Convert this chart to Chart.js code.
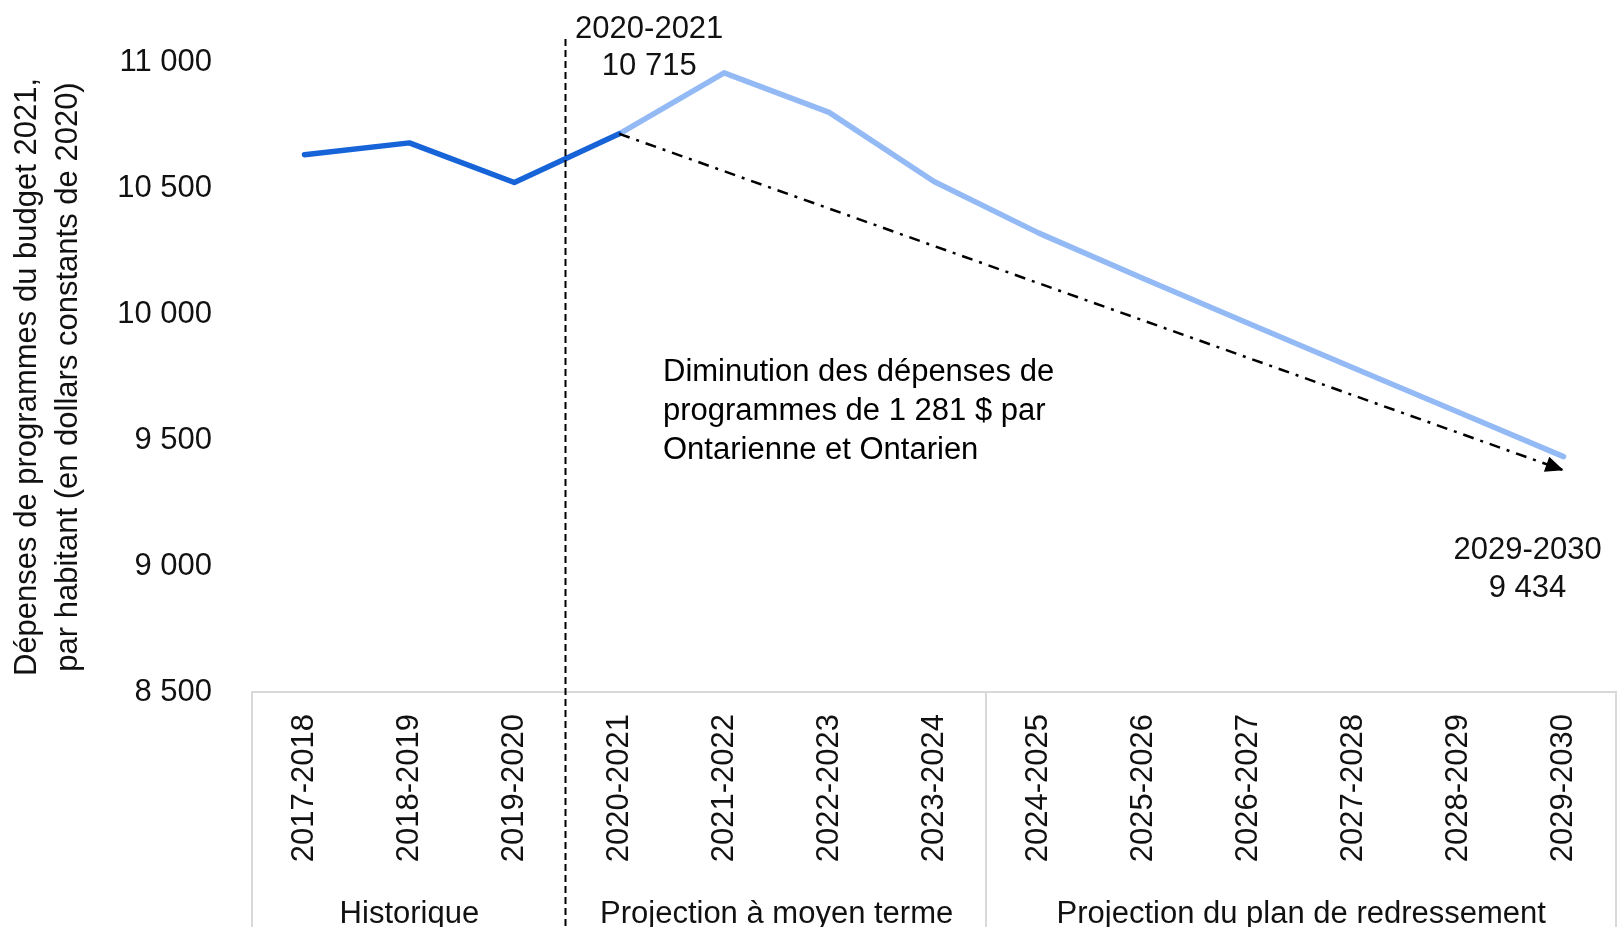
<!DOCTYPE html>
<html>
<head>
<meta charset="utf-8">
<script src="https://cdn.jsdelivr.net/npm/chart.js@4/dist/chart.umd.min.js"></script>
<style>
  html, body { margin: 0; padding: 0; background: #fff; }
</style>
</head>
<body>
<canvas id="chart" width="1624" height="927"></canvas>
<script>
// données
const categories = ['2017-2018', '2018-2019', '2019-2020', '2020-2021', '2021-2022', '2022-2023', '2023-2024',
  '2024-2025', '2025-2026', '2026-2027', '2027-2028', '2028-2029', '2029-2030'];
const historique = [10632, 10679, 10522, 10715, null, null, null, null, null, null, null, null, null];
const projection = [null, null, null, 10715, 10957, 10800, 10526, 10321, 10140, 9962, 9786, 9610, 9434];
const tendance = [null, null, null, 10715, null, null, null, null, null, null, null, null, 9380];
const yTicks = [8500, 9000, 9500, 10000, 10500, 11000];
const groups = [
  { label: 'Historique', first: 0, last: 2 },
  { label: 'Projection à moyen terme', first: 3, last: 6 },
  { label: 'Projection du plan de redressement', first: 7, last: 12 },
];
const divider = 3; // début des projections
const yTitle = ['Dépenses de programmes du budget 2021,', 'par habitant (en dollars constants de 2020)'];
const startLabel = ['2020-2021', '10 715'];
const endLabel = ['2029-2030', '9 434'];
const note = ['Diminution des dépenses de', 'programmes de 1 281 $ par', 'Ontarienne et Ontarien'];

const FONT = '"Liberation Sans", Arial, sans-serif';
const TEXT = '#111';
Chart.defaults.font.family = FONT;
Chart.defaults.font.size = 31;
Chart.defaults.color = TEXT;

const fmt = v => String(v).replace(/\B(?=(\d{3})+(?!\d))/g, ' ');

const decor = {
  id: 'decor',
  afterDatasetsDraw(chart) {
    const { ctx, chartArea: a, scales: { x } } = chart;
    const step = x.getPixelForValue(1) - x.getPixelForValue(0);
    const edge = i => x.getPixelForValue(Math.min(i, categories.length - 1)) + (i > categories.length - 1 ? step / 2 : -step / 2);
    ctx.save();

    // séparateurs des groupes sous l'axe
    ctx.strokeStyle = '#d9d9d9';
    ctx.lineWidth = 2;
    const bounds = groups.map(g => g.first).concat(groups[groups.length - 1].last + 1).filter(i => i !== divider);
    bounds.forEach(i => {
      const px = Math.round(edge(i));
      ctx.beginPath();
      ctx.moveTo(px, a.bottom);
      ctx.lineTo(px, chart.height);
      ctx.stroke();
    });

    // noms des groupes
    ctx.font = '31px ' + FONT;
    ctx.fillStyle = TEXT;
    ctx.textAlign = 'center';
    ctx.textBaseline = 'middle';
    groups.forEach(g => ctx.fillText(g.label, (edge(g.first) + edge(g.last + 1)) / 2, a.bottom + 222));

    // ligne pointillée historique / projection
    const dx = Math.round(edge(divider)) - 1.5;
    ctx.strokeStyle = '#000';
    ctx.lineWidth = 2;
    ctx.setLineDash([7, 4]);
    ctx.beginPath();
    ctx.moveTo(dx, a.top - 23);
    ctx.lineTo(dx, chart.height);
    ctx.stroke();
    ctx.setLineDash([]);

    // pointe de flèche de la tendance
    const tMeta = chart.getDatasetMeta(0);
    const idx = tendance.map((v, i) => (v === null ? -1 : i)).filter(i => i >= 0);
    const p0 = tMeta.data[idx[0]];
    const p1 = tMeta.data[idx[idx.length - 1]];
    const ang = Math.atan2(p1.y - p0.y, p1.x - p0.x);
    const len = 18, half = 8;
    ctx.fillStyle = '#000';
    ctx.beginPath();
    ctx.moveTo(p1.x, p1.y);
    ctx.lineTo(p1.x - len * Math.cos(ang) + half * Math.sin(ang), p1.y - len * Math.sin(ang) - half * Math.cos(ang));
    ctx.lineTo(p1.x - len * Math.cos(ang) - half * Math.sin(ang), p1.y - len * Math.sin(ang) + half * Math.cos(ang));
    ctx.closePath();
    ctx.fill();

    // étiquettes
    ctx.fillStyle = TEXT;
    ctx.textAlign = 'center';
    const sx = x.getPixelForValue(divider) + 30;
    ctx.fillText(startLabel[0], sx, a.top - 33);
    ctx.fillText(startLabel[1], sx, a.top + 4);

    const pMeta = chart.getDatasetMeta(2);
    const last = pMeta.data[projection.length - 1];
    ctx.fillText(endLabel[0], last.x - 36, last.y + 94);
    ctx.fillText(endLabel[1], last.x - 36, last.y + 132);

    ctx.fillStyle = '#000';
    ctx.textAlign = 'left';
    note.forEach((t, i) => ctx.fillText(t, a.left + 411, a.top + 310 + i * 39));

    ctx.restore();
  }
};

new Chart(document.getElementById('chart'), {
  type: 'line',
  data: {
    labels: categories,
    datasets: [
      {
        label: 'Tendance',
        data: tendance,
        borderColor: '#000',
        borderWidth: 2.5,
        borderDash: [11, 7, 3, 7],
        spanGaps: true,
        pointRadius: 0,
      },
      {
        label: 'Historique',
        data: historique,
        borderColor: '#1664d8',
        borderWidth: 5.5,
        borderCapStyle: 'round',
        borderJoinStyle: 'round',
        pointRadius: 0,
      },
      {
        label: 'Projection',
        data: projection,
        borderColor: '#94baf5',
        borderWidth: 5.5,
        borderCapStyle: 'round',
        borderJoinStyle: 'round',
        pointRadius: 0,
      },
    ],
  },
  options: {
    responsive: false,
    animation: false,
    layout: { padding: { top: 62, right: 8, left: 0, bottom: 0 } },
    plugins: {
      legend: { display: false },
      tooltip: { enabled: false },
    },
    scales: {
      x: {
        offset: true,
        grid: { display: false, drawTicks: false },
        border: { display: true, color: '#d9d9d9', width: 2 },
        ticks: { autoSkip: false, minRotation: 90, maxRotation: 90, padding: 22 },
        afterFit: s => { s.height = 235; },
      },
      y: {
        min: 8500,
        max: 11000,
        grid: { display: false, drawTicks: false },
        border: { display: false },
        ticks: { padding: 40, callback: v => fmt(v) },
        afterBuildTicks: s => { s.ticks = yTicks.map(v => ({ value: v })); },
        afterFit: s => { s.width = 252; },
        title: {
          display: true,
          text: yTitle,
          font: { size: 31, lineHeight: 1.32 },
          padding: { top: 7, bottom: 0 },
        },
      },
    },
  },
  plugins: [decor],
});
</script>
</body>
</html>
